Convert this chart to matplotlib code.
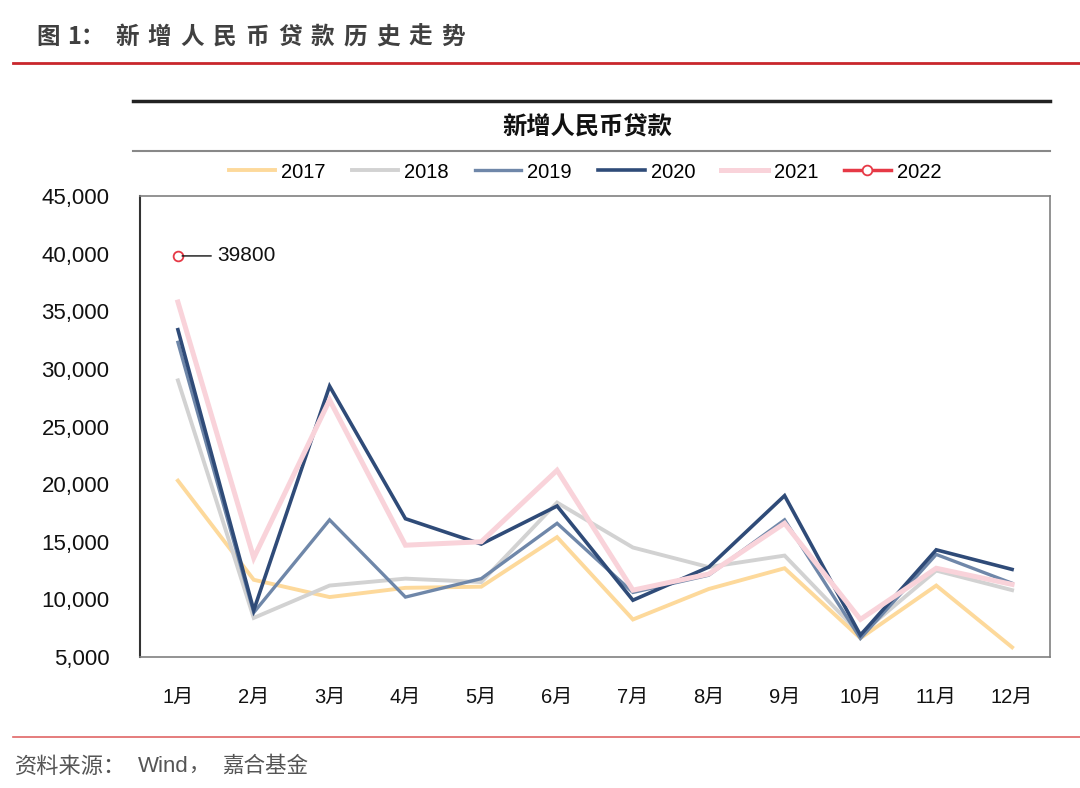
import numpy as np
import matplotlib
matplotlib.use('Agg')
import matplotlib.pyplot as plt
from matplotlib.lines import Line2D
from matplotlib.ticker import FuncFormatter

plt.rcParams['font.family'] = ['Liberation Sans', 'Noto Sans CJK SC']

# data (100 million yuan)
months = ['1月', '2月', '3月', '4月', '5月', '6月', '7月', '8月', '9月', '10月', '11月', '12月']
y2017 = [20300, 11700, 10200, 11000, 11100, 15400, 8255, 10900, 12700, 6632, 11200, 5844]
y2018 = [29000, 8393, 11200, 11800, 11500, 18400, 14500, 12800, 13800, 6970, 12500, 10800]
y2019 = [32300, 8858, 16900, 10200, 11800, 16600, 10600, 12100, 16900, 6613, 13900, 11400]
y2020 = [33400, 9057, 28500, 17000, 14800, 18100, 9927, 12800, 19000, 6898, 14300, 12600]
y2021 = [35800, 13600, 27300, 14700, 15000, 21200, 10800, 12200, 16600, 8262, 12700, 11300]
y2022 = [39800] + [np.nan] * 11

W, H = 1080, 788


def fx(px):
    return px / W


def fy(py):
    return 1 - py / H


fig = plt.figure(figsize=(W / 100, H / 100), dpi=100)

# header / footer decoration
fig.add_artist(Line2D([fx(13), fx(1080)], [fy(63), fy(63)], color='#C9262C', lw=2))
fig.add_artist(Line2D([fx(133), fx(1050)], [fy(101), fy(101)], color='#222222', lw=2.5))
fig.add_artist(Line2D([fx(133), fx(1050)], [fy(151), fy(151)], color='#888888', lw=1.5))
fig.add_artist(Line2D([fx(13), fx(1080)], [fy(737), fy(737)], color='#E06666', lw=1.2))

# page title, spaced characters
cjk = ['Noto Sans CJK SC']
fig.text(fx(36), fy(37), '图', fontsize=17, fontweight='bold', color='#404040',
         family=cjk, va='center', ha='left')
fig.text(fx(67), fy(37), '1：', fontsize=17, fontweight='bold', color='#404040',
         family=cjk, va='center', ha='left')
for i, ch in enumerate('新增人民币贷款历史走势'):
    fig.text(fx(115 + i * 32.6), fy(37), ch, fontsize=17, fontweight='bold', color='#404040',
             family=cjk, va='center', ha='left')

# source
fig.text(fx(15), fy(766), '资料来源：', fontsize=16, color='#555555', family=cjk,
         va='center', ha='left')
fig.text(fx(138), fy(766), 'Wind', fontsize=16, color='#555555', va='center', ha='left')
fig.text(fx(188), fy(766), '，', fontsize=15, color='#555555', family=cjk,
         va='center', ha='left')
fig.text(fx(222), fy(766), '嘉合基金', fontsize=15.5, color='#555555', family=cjk,
         va='center', ha='left')

# chart title
fig.text(fx(587), fy(127), '新增人民币贷款', fontsize=17.5, fontweight='bold', color='#111111',
         family=cjk, va='center', ha='center')

ax = fig.add_axes([fx(140), fy(657), fx(1050) - fx(140), fy(196) - fy(657)])
x = np.arange(len(months))

series = [
    ('2017', y2017, '#FDD99B', 2.8),
    ('2018', y2018, '#D2D2D2', 2.8),
    ('2019', y2019, '#6F87A9', 2.4),
    ('2020', y2020, '#2F4B78', 2.6),
    ('2021', y2021, '#F9D3DA', 3.6),
]
for name, vals, col, lw in series:
    ax.plot(x, vals, color=col, lw=lw, label=name, solid_joinstyle='miter')

ax.plot(x, y2022, color='#E63946', lw=2.5, marker='o', markersize=7,
        markerfacecolor='white', markeredgecolor='#E63946', markeredgewidth=1.3, label='2022')

ax.annotate('39800', xy=(0, y2022[0]), xytext=(28, 0), textcoords='offset points',
            fontsize=15, va='center', ha='left', color='#111111',
            arrowprops=dict(arrowstyle='-', color='#111111', lw=1, shrinkA=2, shrinkB=3))

ax.set_xlim(-0.5, 11.5)
ax.set_ylim(5000, 45000)
ax.set_yticks(np.arange(5000, 45001, 5000))
ax.yaxis.set_major_formatter(FuncFormatter(lambda v, p: f'{int(v):,}'))
ax.set_xticks(x)
ax.set_xticklabels(months)
ax.tick_params(axis='both', length=0, colors='#111111')
ax.tick_params(axis='x', pad=22, labelsize=14.5)
ax.tick_params(axis='y', pad=22, labelsize=16)

for s in ['top', 'right', 'bottom']:
    ax.spines[s].set_color('#808080')
    ax.spines[s].set_linewidth(1.2)
ax.spines['left'].set_color('#333333')
ax.spines['left'].set_linewidth(1.5)

handles, labels = ax.get_legend_handles_labels()
fig.legend(handles, labels, loc='center', bbox_to_anchor=(fx(585), fy(172)), ncol=6,
           frameon=False, fontsize=14.5, handlelength=2.3, handletextpad=0.3,
           columnspacing=1.3)

fig.savefig('out.png', dpi=100)
